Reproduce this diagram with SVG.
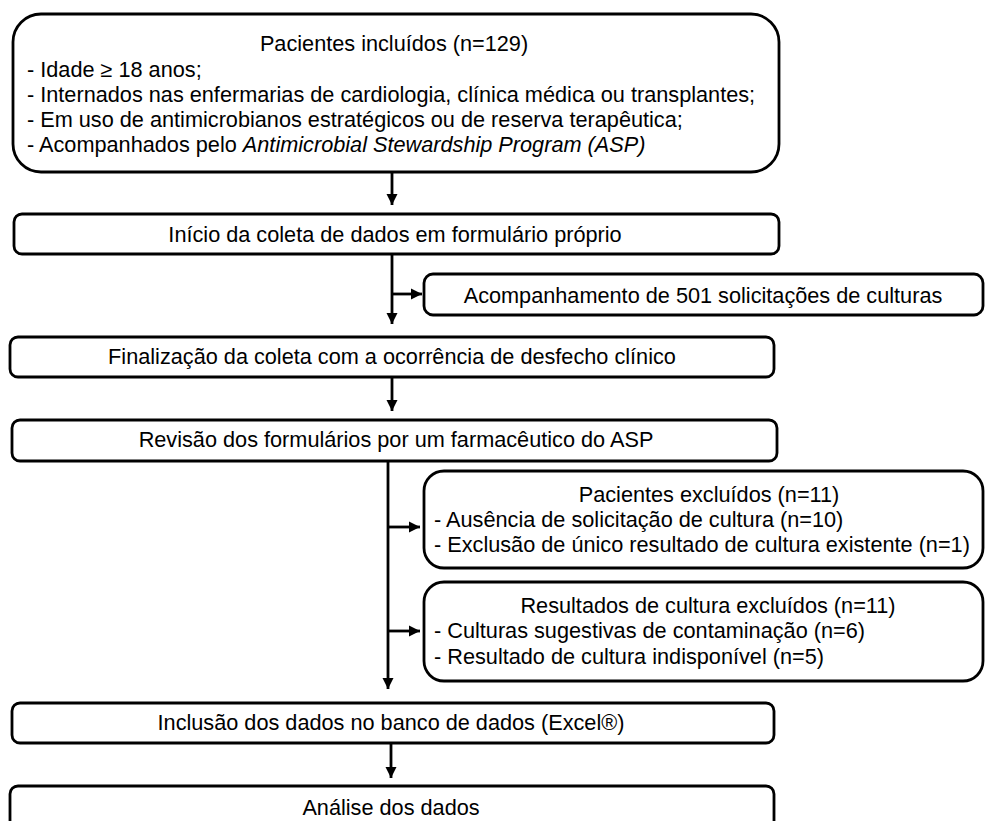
<svg xmlns="http://www.w3.org/2000/svg" width="985" height="821" viewBox="0 0 985 821">
<style>
.box{fill:#fff;stroke:#000;stroke-width:2.8}
.t{font-family:"Liberation Sans",Arial,sans-serif;font-size:21.7px;fill:#000}
.c{text-anchor:middle}
.conn line{stroke:#000;stroke-width:2.8;fill:none}
</style>
<defs>
<marker id="ah" viewBox="0 0 10 10" refX="10" refY="5" markerWidth="4" markerHeight="4" markerUnits="strokeWidth" orient="auto">
<path d="M0,0 L10,5 L0,10 Z" fill="#000"/>
</marker>
</defs>
<rect width="985" height="821" fill="#fff"/>
<g id="n1">
<rect class="box" x="13" y="14" width="766" height="158" rx="28"/>
<text class="t c" x="394" y="51">Pacientes incluídos (n=129)</text>
<text class="t" x="27" y="77">- Idade ≥ 18 anos;</text>
<text class="t" x="27" y="102">- Internados nas enfermarias de cardiologia, clínica médica ou transplantes;</text>
<text class="t" x="27" y="127">- Em uso de antimicrobianos estratégicos ou de reserva terapêutica;</text>
<text class="t" x="27" y="152">- Acompanhados pelo <tspan font-style="italic">Antimicrobial Stewardship Program (ASP)</tspan></text>
</g>
<g id="n2">
<rect class="box" x="14" y="214" width="765" height="40" rx="8"/>
<text class="t c" x="395" y="242">Início da coleta de dados em formulário próprio</text>
</g>
<g id="n3">
<rect class="box" x="424" y="274" width="559" height="41" rx="9"/>
<text class="t c" x="703" y="303">Acompanhamento de 501 solicitações de culturas</text>
</g>
<g id="n4">
<rect class="box" x="10" y="337" width="764" height="40" rx="8"/>
<text class="t c" x="392" y="364">Finalização da coleta com a ocorrência de desfecho clínico</text>
</g>
<g id="n5">
<rect class="box" x="12" y="420" width="765" height="41" rx="8"/>
<text class="t c" x="396" y="447">Revisão dos formulários por um farmacêutico do ASP</text>
</g>
<g id="n6">
<rect class="box" x="424" y="471" width="559" height="97" rx="20"/>
<text class="t c" x="709" y="502">Pacientes excluídos (n=11)</text>
<text class="t" x="434" y="527">- Ausência de solicitação de cultura (n=10)</text>
<text class="t" x="434" y="552">- Exclusão de único resultado de cultura existente (n=1)</text>
</g>
<g id="n7">
<rect class="box" x="424" y="582" width="559" height="99" rx="20"/>
<text class="t c" x="708" y="613">Resultados de cultura excluídos (n=11)</text>
<text class="t" x="434" y="638">- Culturas sugestivas de contaminação (n=6)</text>
<text class="t" x="434" y="664">- Resultado de cultura indisponível (n=5)</text>
</g>
<g id="n8">
<rect class="box" x="12" y="703" width="762" height="40" rx="8"/>
<text class="t c" x="391" y="730">Inclusão dos dados no banco de dados (Excel®)</text>
</g>
<g id="n9">
<rect class="box" x="10" y="786" width="764" height="44" rx="8"/>
<text class="t c" x="391" y="815">Análise dos dados</text>
</g>
<g id="connectors" class="conn">
<line x1="392" y1="172" x2="392" y2="205" marker-end="url(#ah)"/>
<line x1="392" y1="254" x2="392" y2="324" marker-end="url(#ah)"/>
<line x1="392" y1="294" x2="422" y2="294" marker-end="url(#ah)"/>
<line x1="392" y1="377" x2="392" y2="411" marker-end="url(#ah)"/>
<line x1="388" y1="461" x2="388" y2="689" marker-end="url(#ah)"/>
<line x1="388" y1="527" x2="420" y2="527" marker-end="url(#ah)"/>
<line x1="388" y1="631" x2="420" y2="631" marker-end="url(#ah)"/>
<line x1="391" y1="743" x2="391" y2="778" marker-end="url(#ah)"/>
</g>
</svg>
